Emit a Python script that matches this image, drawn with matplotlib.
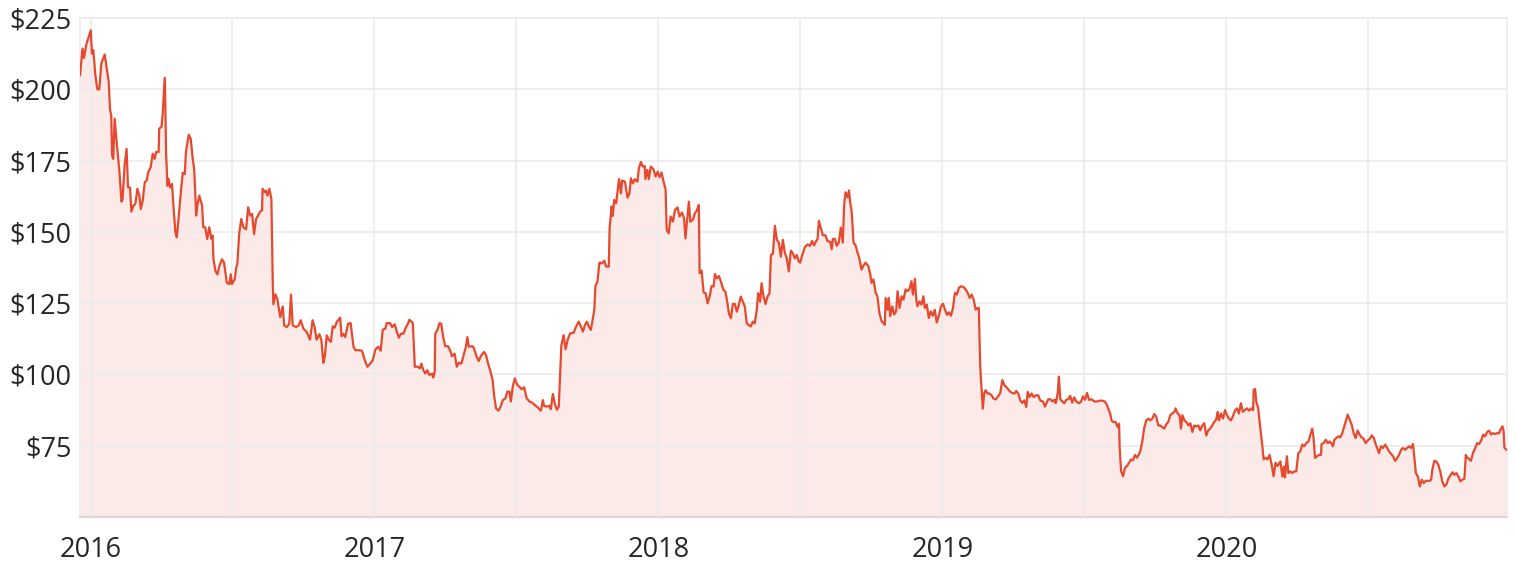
import matplotlib
matplotlib.use("Agg")
import matplotlib.pyplot as plt
from matplotlib.ticker import FixedLocator

# dates as decimal years, prices in $
years = [
    2015.963, 2015.972, 2015.977, 2015.986, 2016.001, 2016.005, 2016.010, 2016.017, 2016.024, 2016.031,
    2016.038, 2016.050, 2016.057, 2016.064, 2016.069, 2016.073, 2016.076, 2016.080, 2016.085, 2016.092,
    2016.102, 2016.109, 2016.113, 2016.120, 2016.127, 2016.132, 2016.139, 2016.144, 2016.151, 2016.158,
    2016.165, 2016.172, 2016.177, 2016.184, 2016.191, 2016.198, 2016.203, 2016.212, 2016.219, 2016.226,
    2016.231, 2016.240, 2016.242, 2016.250, 2016.254, 2016.259, 2016.262, 2016.266, 2016.271, 2016.275,
    2016.280, 2016.287, 2016.292, 2016.299, 2016.304, 2016.311, 2016.318, 2016.325, 2016.332, 2016.336,
    2016.346, 2016.353, 2016.360, 2016.365, 2016.369, 2016.372, 2016.376, 2016.383, 2016.393, 2016.397,
    2016.404, 2016.411, 2016.418, 2016.426, 2016.430, 2016.433, 2016.440, 2016.447, 2016.454, 2016.463,
    2016.470, 2016.480, 2016.489, 2016.494, 2016.498, 2016.508, 2016.513, 2016.517, 2016.524, 2016.531,
    2016.538, 2016.548, 2016.555, 2016.562, 2016.569, 2016.576, 2016.583, 2016.590, 2016.597, 2016.604,
    2016.606, 2016.613, 2016.618, 2016.623, 2016.630, 2016.637, 2016.642, 2016.644, 2016.651, 2016.658,
    # 2016 Q3 - 2017 Q3
    2016.668, 2016.677, 2016.682, 2016.691, 2016.700, 2016.706, 2016.712, 2016.724, 2016.733, 2016.740,
    2016.750, 2016.761, 2016.773, 2016.782, 2016.789, 2016.796, 2016.806, 2016.813, 2016.820, 2016.825,
    2016.832, 2016.839, 2016.846, 2016.853, 2016.860, 2016.867, 2016.879, 2016.884, 2016.890, 2016.897,
    2016.907, 2016.916, 2016.926, 2016.933, 2016.945, 2016.956, 2016.966, 2016.975, 2016.985, 2016.994,
    2017.003, 2017.013, 2017.022, 2017.029, 2017.038, 2017.043, 2017.055, 2017.062, 2017.071, 2017.081,
    2017.086, 2017.093, 2017.102, 2017.111, 2017.118, 2017.123, 2017.135, 2017.142, 2017.153, 2017.160,
    2017.165, 2017.172, 2017.179, 2017.186, 2017.193, 2017.203, 2017.207, 2017.212, 2017.214, 2017.222,
    2017.229, 2017.235, 2017.242, 2017.249, 2017.259, 2017.266, 2017.273, 2017.282, 2017.290, 2017.297,
    2017.306, 2017.315, 2017.322, 2017.327, 2017.332, 2017.341, 2017.348, 2017.355, 2017.360, 2017.367,
    2017.376, 2017.386, 2017.393, 2017.400, 2017.409, 2017.416, 2017.421, 2017.428, 2017.437, 2017.444,
    2017.452, 2017.461, 2017.468, 2017.475, 2017.480, 2017.487, 2017.494, 2017.503, 2017.510, 2017.518,
    2017.527, 2017.536, 2017.546, 2017.555, 2017.564, 2017.574, 2017.586, 2017.593, 2017.597, 2017.607,
    2017.616, 2017.621, 2017.628, 2017.635, 2017.642, 2017.649, 2017.653, 2017.658,
    # 2017 Q3 - 2018 Q2
    2017.666, 2017.673, 2017.680, 2017.689, 2017.701, 2017.710, 2017.719, 2017.727, 2017.734, 2017.741,
    2017.748, 2017.755, 2017.762, 2017.767, 2017.774, 2017.778, 2017.785, 2017.792, 2017.802, 2017.809,
    2017.816, 2017.825, 2017.828, 2017.835, 2017.839, 2017.844, 2017.851, 2017.861, 2017.868, 2017.872,
    2017.882, 2017.891, 2017.898, 2017.903, 2017.910, 2017.917, 2017.926, 2017.931, 2017.938, 2017.945,
    2017.952, 2017.954, 2017.961, 2017.966, 2017.973, 2017.982, 2017.990, 2017.997, 2018.004, 2018.011,
    2018.018, 2018.025, 2018.029, 2018.036, 2018.043, 2018.051, 2018.058, 2018.067, 2018.074, 2018.083,
    2018.090, 2018.095, 2018.102, 2018.107, 2018.112, 2018.121, 2018.128, 2018.135, 2018.142, 2018.145,
    2018.152, 2018.159, 2018.166, 2018.173, 2018.180, 2018.187, 2018.194, 2018.199, 2018.206, 2018.213,
    2018.220, 2018.229, 2018.236, 2018.243, 2018.248, 2018.255, 2018.262, 2018.269, 2018.276, 2018.283,
    2018.290, 2018.297, 2018.304, 2018.311, 2018.318, 2018.325, 2018.332, 2018.339, 2018.346, 2018.351,
    2018.358, 2018.363, 2018.370, 2018.377, 2018.384, 2018.391, 2018.396, 2018.403, 2018.410, 2018.417,
    2018.424, 2018.431, 2018.438, 2018.445, 2018.452, 2018.459, 2018.466, 2018.473, 2018.480, 2018.487,
    2018.494,
    # 2018 Q3 - 2019 Q2
    2018.499, 2018.506, 2018.515, 2018.525, 2018.534, 2018.541, 2018.548, 2018.555, 2018.560, 2018.565,
    2018.572, 2018.579, 2018.588, 2018.595, 2018.605, 2018.610, 2018.614, 2018.621, 2018.628, 2018.635,
    2018.642, 2018.649, 2018.654, 2018.659, 2018.666, 2018.671, 2018.675, 2018.680, 2018.687, 2018.694,
    2018.701, 2018.708, 2018.715, 2018.722, 2018.729, 2018.739, 2018.746, 2018.750, 2018.757, 2018.765,
    2018.771, 2018.778, 2018.786, 2018.793, 2018.797, 2018.800, 2018.807, 2018.811, 2018.816, 2018.823,
    2018.830, 2018.837, 2018.842, 2018.849, 2018.856, 2018.863, 2018.870, 2018.877, 2018.884, 2018.891,
    2018.896, 2018.903, 2018.908, 2018.912, 2018.919, 2018.926, 2018.933, 2018.938, 2018.945, 2018.952,
    2018.959, 2018.966, 2018.973, 2018.980, 2018.987, 2018.995, 2019.002, 2019.009, 2019.016, 2019.023,
    2019.030, 2019.037, 2019.044, 2019.051, 2019.058, 2019.065, 2019.074, 2019.082, 2019.089, 2019.096,
    2019.103, 2019.110, 2019.117, 2019.124, 2019.128, 2019.133, 2019.138, 2019.142, 2019.147, 2019.152,
    2019.159, 2019.166, 2019.173, 2019.180, 2019.187, 2019.194, 2019.203, 2019.211, 2019.218, 2019.225,
    2019.232, 2019.239, 2019.246, 2019.253, 2019.260, 2019.267, 2019.274, 2019.281, 2019.288, 2019.295,
    2019.300, 2019.307, 2019.314, 2019.321, 2019.330, 2019.337,
    # 2019 Q2 - 2020 Q1
    2019.345, 2019.354, 2019.361, 2019.366, 2019.373, 2019.380, 2019.387, 2019.394, 2019.399, 2019.406,
    2019.410, 2019.415, 2019.422, 2019.429, 2019.436, 2019.443, 2019.450, 2019.457, 2019.464, 2019.471,
    2019.481, 2019.488, 2019.495, 2019.502, 2019.509, 2019.516, 2019.525, 2019.535, 2019.544, 2019.553,
    2019.563, 2019.572, 2019.579, 2019.586, 2019.591, 2019.596, 2019.603, 2019.610, 2019.617, 2019.622,
    2019.624, 2019.629, 2019.636, 2019.643, 2019.650, 2019.657, 2019.664, 2019.671, 2019.678, 2019.685,
    2019.692, 2019.697, 2019.704, 2019.711, 2019.718, 2019.725, 2019.732, 2019.739, 2019.746, 2019.753,
    2019.760, 2019.767, 2019.774, 2019.781, 2019.788, 2019.795, 2019.802, 2019.809, 2019.817, 2019.821,
    2019.828, 2019.835, 2019.840, 2019.845, 2019.852, 2019.859, 2019.866, 2019.873, 2019.880, 2019.887,
    2019.894, 2019.901, 2019.908, 2019.915, 2019.922, 2019.929, 2019.936, 2019.943, 2019.950, 2019.957,
    2019.964, 2019.969, 2019.974, 2019.981, 2019.988, 2019.995, 2020.002, 2020.009, 2020.016, 2020.023,
    2020.030, 2020.037, 2020.044, 2020.051, 2020.058, 2020.065, 2020.072, 2020.080, 2020.087, 2020.094,
    2020.096, 2020.101, 2020.105, 2020.112, 2020.119, 2020.127, 2020.131, 2020.138, 2020.145, 2020.152,
    2020.159, 2020.166, 2020.173, 2020.180, 2020.190,
    # 2020 Q2 - end
    2020.197, 2020.202, 2020.206, 2020.213, 2020.218, 2020.225, 2020.232, 2020.239, 2020.246, 2020.253,
    2020.260, 2020.267, 2020.274, 2020.281, 2020.289, 2020.296, 2020.302, 2020.307, 2020.312, 2020.319,
    2020.326, 2020.333, 2020.335, 2020.342, 2020.350, 2020.357, 2020.364, 2020.371, 2020.375, 2020.380,
    2020.387, 2020.394, 2020.401, 2020.408, 2020.415, 2020.422, 2020.427, 2020.434, 2020.441, 2020.448,
    2020.455, 2020.462, 2020.469, 2020.476, 2020.483, 2020.490, 2020.497, 2020.505, 2020.512, 2020.519,
    2020.526, 2020.533, 2020.537, 2020.544, 2020.551, 2020.559, 2020.566, 2020.573, 2020.580, 2020.587,
    2020.594, 2020.601, 2020.608, 2020.615, 2020.622, 2020.629, 2020.636, 2020.643, 2020.650, 2020.657,
    2020.662, 2020.667, 2020.674, 2020.681, 2020.688, 2020.695, 2020.702, 2020.709, 2020.716, 2020.721,
    2020.725, 2020.732, 2020.739, 2020.746, 2020.753, 2020.760, 2020.768, 2020.775, 2020.782, 2020.789,
    2020.796, 2020.803, 2020.810, 2020.817, 2020.824, 2020.831, 2020.838, 2020.843, 2020.847, 2020.854,
    2020.861, 2020.868, 2020.876, 2020.883, 2020.890, 2020.897, 2020.904, 2020.911, 2020.918, 2020.925,
    2020.932, 2020.939, 2020.946, 2020.953, 2020.960, 2020.965, 2020.972, 2020.976, 2020.979, 2020.986,
]

prices = [
    204.9, 214.3, 211.0, 216.0, 220.7, 212.5, 213.7, 205.0, 200.0, 200.0,
    209.0, 212.2, 207.3, 202.6, 192.6, 190.9, 176.8, 175.6, 189.7, 181.5,
    170.9, 160.6, 161.5, 173.3, 179.1, 165.6, 165.6, 157.1, 159.2, 159.8,
    165.1, 162.7, 158.0, 161.0, 167.4, 168.0, 170.9, 172.7, 177.4, 175.6,
    178.0, 178.0, 186.2, 186.8, 190.9, 200.2, 204.0, 178.0, 166.2, 168.6,
    165.6, 166.8, 159.2, 149.8, 148.1, 155.7, 163.9, 170.7, 170.3, 178.0,
    184.1, 182.6, 175.6, 172.1, 163.3, 155.7, 159.2, 162.7, 159.2, 151.6,
    151.6, 147.5, 151.6, 147.5, 148.7, 140.4, 136.3, 135.1, 138.1, 140.4,
    139.3, 132.2, 131.7, 135.1, 131.7, 133.4, 137.5, 138.7, 149.8, 154.5,
    151.6, 150.9, 158.6, 155.7, 156.3, 149.2, 154.5, 155.7, 157.1, 157.5,
    165.1, 163.9, 164.5, 162.7, 165.1, 161.5, 131.0, 124.6, 128.1, 126.4,
    # 2016 Q3 - 2017 Q3
    120.1, 123.8, 117.2, 116.6, 117.8, 128.0, 117.2, 116.6, 117.2, 119.0,
    116.0, 114.9, 112.2, 119.0, 116.6, 112.2, 114.1, 112.0, 104.1, 106.2,
    113.7, 112.2, 111.4, 116.9, 116.4, 118.4, 119.9, 113.4, 114.3, 113.1,
    117.8, 118.0, 109.7, 108.5, 108.5, 108.3, 105.0, 102.7, 103.8, 105.0,
    108.7, 109.7, 108.3, 115.7, 116.0, 118.0, 118.0, 116.6, 117.6, 114.3,
    112.9, 114.3, 114.3, 116.6, 117.8, 119.2, 118.0, 102.7, 102.7, 102.1,
    103.8, 101.5, 100.3, 101.5, 99.8, 100.3, 98.9, 100.9, 114.3, 115.7,
    118.0, 117.8, 113.1, 109.9, 109.9, 108.5, 106.4, 107.3, 102.7, 104.1,
    103.8, 107.1, 109.7, 113.1, 109.7, 109.9, 109.7, 107.6, 106.2, 104.7,
    106.7, 107.9, 106.7, 103.8, 100.9, 98.0, 92.8, 88.1, 87.3, 88.7,
    91.0, 91.6, 94.0, 94.0, 90.5, 95.7, 98.6, 96.3, 95.7, 94.8,
    95.5, 91.6, 90.5, 90.1, 89.3, 88.5, 87.3, 91.0, 89.0, 88.7,
    89.0, 87.8, 93.1, 89.8, 87.6, 88.7, 98.0, 110.2,
    # 2017 Q3 - 2018 Q2
    113.8, 108.8, 112.1, 114.4, 114.6, 116.8, 118.5, 116.8, 115.0, 117.3,
    118.5, 116.8, 115.6, 118.5, 122.6, 131.0, 132.5, 139.2, 139.0, 139.9,
    137.8, 137.8, 151.3, 158.9, 155.6, 161.2, 160.0, 168.5, 163.5, 168.0,
    167.6, 162.0, 163.5, 168.8, 167.0, 168.5, 167.6, 172.3, 174.5, 172.9,
    173.1, 168.5, 171.7, 168.5, 172.9, 172.0, 169.4, 171.1, 169.2, 170.8,
    167.6, 164.9, 150.7, 149.5, 155.4, 153.6, 157.7, 158.6, 155.4, 156.8,
    154.8, 147.7, 155.4, 160.6, 153.6, 154.2, 156.5, 157.5, 159.4, 135.5,
    136.4, 128.7, 128.5, 124.9, 127.3, 131.0, 130.8, 135.2, 133.7, 134.5,
    132.5, 129.6, 129.0, 124.9, 121.4, 119.7, 124.7, 124.7, 122.0, 124.4,
    127.3, 125.5, 123.8, 117.9, 117.3, 116.8, 118.5, 117.9, 122.6, 128.5,
    125.5, 132.0, 127.3, 124.7, 127.3, 128.5, 141.9, 142.3, 152.1, 147.2,
    146.2, 141.3, 147.2, 142.7, 140.7, 136.1, 143.4, 142.5, 140.7, 141.9,
    139.6,
    # 2018 Q3 - 2019 Q2
    139.2, 141.8, 144.5, 145.6, 145.1, 146.8, 145.3, 146.8, 147.4, 153.9,
    151.2, 148.8, 148.8, 146.8, 146.5, 143.9, 147.4, 147.6, 145.1, 146.2,
    151.5, 146.2, 159.8, 163.9, 162.1, 164.5, 160.4, 157.4, 146.2, 145.3,
    142.7, 140.4, 136.8, 138.2, 139.2, 138.0, 135.1, 132.1, 133.3, 128.6,
    127.4, 121.5, 118.6, 118.0, 117.4, 126.8, 122.7, 126.8, 120.4, 123.9,
    121.0, 122.1, 129.2, 123.3, 127.4, 126.2, 129.8, 129.2, 130.0, 132.7,
    128.0, 133.5, 126.2, 123.9, 125.6, 124.5, 127.4, 123.3, 124.5, 119.8,
    122.1, 120.6, 122.7, 118.2, 120.4, 123.9, 124.8, 122.7, 120.9, 121.8,
    120.6, 123.3, 128.6, 128.0, 130.4, 130.9, 130.7, 129.8, 128.6, 126.8,
    128.0, 126.2, 122.7, 123.3, 123.3, 102.7, 94.5, 88.0, 93.3, 94.5,
    93.3, 93.3, 92.7, 91.5, 91.2, 92.1, 93.3, 98.0, 96.2, 95.6,
    94.7, 93.9, 93.5, 93.3, 94.2, 93.3, 90.9, 90.0, 90.9, 88.6,
    93.9, 92.1, 93.3, 92.1, 92.7, 92.7,
    # 2019 Q2 - 2020 Q1
    90.8, 90.5, 88.7, 89.9, 91.3, 91.3, 90.5, 91.1, 89.9, 93.5,
    99.2, 91.3, 90.5, 89.9, 91.1, 91.3, 92.5, 90.1, 92.0, 90.5,
    89.9, 90.5, 92.3, 91.1, 93.5, 91.1, 91.3, 90.5, 90.5, 90.8,
    90.8, 90.5, 89.3, 87.5, 86.1, 83.7, 83.3, 83.3, 81.5, 82.7,
    74.4, 66.1, 64.3, 67.3, 67.9, 69.0, 70.2, 69.9, 71.8, 70.8,
    72.0, 73.2, 76.8, 81.5, 83.9, 84.5, 83.9, 84.5, 86.1, 85.1,
    82.1, 82.1, 81.5, 81.0, 82.5, 83.3, 85.7, 86.3, 86.9, 88.1,
    86.3, 85.7, 81.0, 85.7, 83.9, 83.3, 82.1, 82.9, 79.8, 82.1,
    81.8, 82.1, 80.4, 82.1, 82.9, 78.6, 80.4, 81.0, 82.1, 83.3,
    84.2, 86.9, 83.9, 86.3, 84.5, 87.5, 85.7, 84.5, 83.9, 85.4,
    87.3, 88.1, 86.3, 89.9, 86.9, 87.5, 88.1, 87.3, 88.1, 87.5,
    94.6, 94.9, 90.5, 88.1, 81.5, 74.4, 70.2, 70.8, 70.2, 71.8,
    68.5, 64.3, 69.0, 67.9, 69.5,
    # 2020 Q2 - end
    64.2, 67.7, 63.9, 71.3, 65.4, 66.0, 65.4, 66.0, 66.0, 72.4,
    73.0, 75.4, 74.8, 75.9, 76.5, 78.9, 81.0, 77.7, 70.7, 71.3,
    71.8, 71.8, 75.6, 75.9, 77.1, 75.9, 76.5, 75.6, 74.8, 77.1,
    77.7, 78.3, 77.9, 79.4, 81.8, 84.1, 85.9, 84.1, 82.4, 79.4,
    77.7, 80.3, 78.9, 77.9, 77.5, 75.9, 76.8, 77.5, 78.6, 77.7,
    75.4, 73.6, 72.4, 74.8, 74.2, 75.4, 74.2, 73.0, 72.1, 71.3,
    69.7, 70.6, 71.8, 73.6, 74.2, 73.6, 74.2, 74.8, 74.2, 75.6,
    70.7, 65.4, 64.2, 60.7, 63.1, 61.9, 62.7, 62.7, 62.7, 63.1,
    66.6, 69.7, 69.5, 68.3, 66.0, 62.5, 60.7, 61.5, 63.6, 64.6,
    65.7, 64.8, 65.4, 64.2, 62.5, 63.1, 63.4, 71.8, 70.9, 70.4,
    69.7, 72.4, 74.2, 75.9, 75.6, 76.8, 78.9, 78.3, 79.8, 80.3,
    78.9, 79.4, 79.1, 79.4, 79.4, 80.6, 81.8, 80.3, 74.2, 73.6,
]

y_ticks = [75, 100, 125, 150, 175, 200, 225]
x_ticks = [2016, 2017, 2018, 2019, 2020]
x_labels = ['2016', '2017', '2018', '2019', '2020']

line_color = '#E6492D'
fill_color = '#FBEAE7'
grid_color = '#EBEBEB'

fig = plt.figure(figsize=(15.16, 5.64), dpi=100)
ax = fig.add_axes([80 / 1516, 1 - 517 / 564, (1507 - 80) / 1516, (517 - 18) / 564])

ax.fill_between(years, prices, 50, color=fill_color, lw=0, zorder=1)
ax.plot(years, prices, color=line_color, lw=1.6, zorder=3)

ax.set_xlim(2015.963, 2020.988)
ax.set_ylim(50, 225)

ax.set_yticks(y_ticks)
ax.set_yticklabels(['$' + str(v) for v in y_ticks])
ax.set_xticks(x_ticks)
ax.set_xticklabels(x_labels)
ax.xaxis.set_minor_locator(FixedLocator([2016.5, 2017.5, 2018.5, 2019.5, 2020.5]))

ax.grid(True, which='both', axis='x', color=grid_color, lw=1.2, zorder=2)
ax.grid(True, which='major', axis='y', color=grid_color, lw=1.2, zorder=2)
ax.set_axisbelow(False)

ax.tick_params(axis='both', which='both', length=0, labelsize=19.5, labelcolor='#262626')
ax.tick_params(axis='y', pad=6)
ax.tick_params(axis='x', pad=14)
for lab in ax.get_xticklabels() + ax.get_yticklabels():
    lab.set_family(['Open Sans', 'DejaVu Sans'])

for side in ['top', 'right', 'left']:
    ax.spines[side].set_color(grid_color)
    ax.spines[side].set_linewidth(1.2)
ax.spines['bottom'].set_color('#E3D5D3')
ax.spines['bottom'].set_linewidth(1.5)

fig.savefig('out.png', dpi=100)
